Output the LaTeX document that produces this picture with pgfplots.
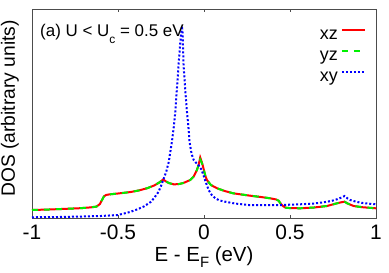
\documentclass[border=0pt]{standalone}
\usepackage{fontspec}
\setmainfont{Liberation Sans}
\usepackage{pgfplots}
\pgfplotsset{compat=1.18}
\definecolor{cxz}{RGB}{255,0,0}
\definecolor{cyz}{RGB}{0,240,0}
\definecolor{cxy}{RGB}{0,0,255}
\begin{document}
\begin{tikzpicture}
\begin{axis}[
  scale only axis, width=344bp, height=209bp,
  xmin=-1, xmax=1, ymin=0, ymax=209,
  xtick={-1,-0.5,0,0.5,1},
  xticklabels={-1,-0.5,0,0.5,1},
  ytick=\empty,
  tick align=inside,
  xtick pos=both,
  major tick length=3bp,
  axis line style={black!70, line width=0.7bp},
  every tick/.style={black!70, line width=0.7bp},
  xticklabel style={font=\fontsize{21}{21}\selectfont, inner sep=0pt, anchor=north, yshift=-7bp},
  xlabel={E - E\raisebox{-6bp}{\fontsize{15}{15}\selectfont F} (eV)},
  xlabel style={at={(axis description cs:0.5,0)}, anchor=base, yshift=-43.7bp, inner sep=0pt, font=\fontsize{20.5}{20.5}\selectfont},
  clip=false,
  legend plot pos=right,
  legend cell align=right,
  legend style={at={([xshift=-10bp,yshift=-18bp]rel axis cs:1,1)}, anchor=north east, draw=none, fill=none,
    font=\fontsize{18}{18}\selectfont, inner sep=0pt, row sep=5bp, column sep=3bp,
    nodes={inner sep=0pt, text height=12bp, text depth=4bp}},
  legend image code/.code={\draw[#1] (0bp,5bp) -- (23bp,5bp);},
]
\addplot[cxz, line width=2bp] coordinates {
(-1.00,8.0) (-0.90,8.5) (-0.80,9.2) (-0.72,9.8) (-0.66,10.6) (-0.625,11.4) (-0.605,14) (-0.593,18)
(-0.582,21.5) (-0.570,23) (-0.55,23.6) (-0.50,24.5) (-0.43,25.9) (-0.38,27.5) (-0.33,29.8) (-0.29,32.5)
(-0.26,35.5) (-0.245,37.5) (-0.237,38.5) (-0.225,37) (-0.205,35) (-0.177,33.7) (-0.15,33.8) (-0.12,35)
(-0.08,38) (-0.06,41.5) (-0.041,48) (-0.030,54) (-0.022,60.5) (-0.015,57) (-0.008,53) (-0.002,49)
(0.008,42) (0.017,38) (0.04,33) (0.076,29.7) (0.12,27) (0.17,24.7) (0.26,22.5) (0.33,21) (0.385,19.7)
(0.42,18.5) (0.434,17.3) (0.443,15) (0.453,13) (0.463,11.5) (0.475,10.3) (0.50,9.9) (0.56,9.7)
(0.64,10.5) (0.715,12) (0.773,14.7) (0.800,15.8) (0.817,16.3) (0.835,14.5) (0.870,12) (0.92,10.8) (1.00,9.7)
};
\addlegendentry{xz}
\addplot[cyz, line width=2bp, dash pattern=on 6bp off 6bp] coordinates {
(-1.00,8.0) (-0.90,8.5) (-0.80,9.2) (-0.72,9.8) (-0.66,10.6) (-0.625,11.4) (-0.605,14) (-0.593,18)
(-0.582,21.5) (-0.570,23) (-0.55,23.6) (-0.50,24.5) (-0.43,25.9) (-0.38,27.5) (-0.33,29.8) (-0.29,32.5)
(-0.26,35.5) (-0.245,37.5) (-0.237,38.5) (-0.225,37) (-0.205,35) (-0.177,33.7) (-0.15,33.8) (-0.12,35)
(-0.08,38) (-0.06,41.5) (-0.041,48) (-0.030,54) (-0.022,58.5) (-0.015,56) (-0.008,53) (-0.002,49)
(0.008,42) (0.017,38) (0.04,33) (0.076,29.7) (0.12,27) (0.17,24.7) (0.26,22.5) (0.33,21) (0.385,19.7)
(0.42,18.5) (0.434,17.3) (0.443,15) (0.453,13) (0.463,11.5) (0.475,10.3) (0.50,9.9) (0.56,9.7)
(0.64,10.5) (0.715,12) (0.773,14.7) (0.800,15.8) (0.817,16.3) (0.835,14.5) (0.870,12) (0.92,10.8) (1.00,9.7)
};
\addlegendentry{yz}
\addplot[cxy, line width=2bp, dash pattern=on 2bp off 2bp] coordinates {
(-1.00,0.7) (-0.85,1.0) (-0.72,1.4) (-0.60,2.0) (-0.50,3.0) (-0.43,6.0) (-0.39,8.5) (-0.35,11.5)
(-0.31,16) (-0.29,20) (-0.265,26) (-0.25,32) (-0.235,39) (-0.22,46) (-0.205,56) (-0.186,77)
(-0.175,92) (-0.167,106) (-0.158,128) (-0.148,153) (-0.138,175) (-0.132,186) (-0.128,192)
(-0.124,184) (-0.119,153) (-0.109,128) (-0.099,106) (-0.091,92) (-0.084,76) (-0.072,64) (-0.060,58)
(-0.04,54) (-0.022,51) (-0.005,44) (0.008,37) (0.027,28) (0.045,23) (0.066,19.7) (0.09,17.5)
(0.124,16.3) (0.18,14.5) (0.258,13) (0.35,13) (0.453,13) (0.56,13.7) (0.64,14.5) (0.695,15.7)
(0.74,17) (0.773,18.7) (0.80,20.5) (0.817,22) (0.835,19.5) (0.85,18) (0.88,16.5) (0.909,15.3)
(0.96,14.3) (1.00,13.7)
};
\addlegendentry{xy}
\node[anchor=base west, inner sep=0pt, font=\fontsize{17}{17}\selectfont]
  at ([xshift=8bp,yshift=-27.7bp]rel axis cs:0,1)
  {(a) U < U\raisebox{-7bp}{\fontsize{12}{12}\selectfont c} = 0.5 eV};
\node[anchor=base, rotate=90, inner sep=0pt, font=\fontsize{19.3}{19.3}\selectfont]
  at ([xshift=-17bp]rel axis cs:0,0.524) {DOS (arbitrary units)};
\end{axis}
\pgfresetboundingbox
\path[use as bounding box] (-32bp,-55bp) rectangle (357bp,218bp);
\end{tikzpicture}
\end{document}
